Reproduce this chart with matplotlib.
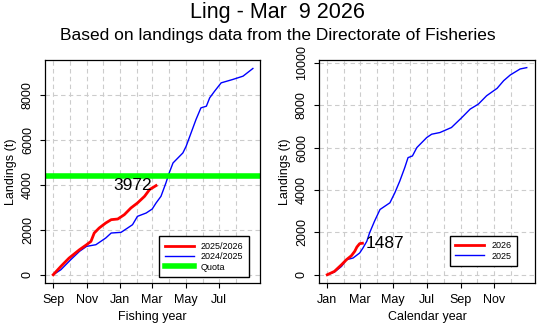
import matplotlib.pyplot as plt

plt.rcParams['font.family'] = ['Liberation Sans', 'DejaVu Sans']

# Fishing year (day from 1 Sep)
fy_months = [0, 30, 61, 91, 122, 153, 181, 212, 242, 273, 303, 334]
fy_labels = ['Sep', '', 'Nov', '', 'Jan', '', 'Mar', '', 'May', '', 'Jul', '']

fy_cur_day = [0, 14, 29, 48, 61, 69, 75, 84, 96, 106, 118, 130, 142, 154, 167, 176, 188]
fy_cur_val = [0, 372, 743, 1115, 1338, 1487, 1859, 2082, 2305, 2454, 2483, 2677, 2974,
              3197, 3495, 3792, 3972]

fy_prev_day = [0, 14, 32, 48, 61, 78, 96, 106, 124, 136, 145, 154, 170, 181, 188, 197, 206,
               212, 219, 228, 237, 243, 252, 261, 270, 280, 286, 295, 307, 328, 347, 365]
fy_prev_val = [0, 223, 669, 1041, 1264, 1338, 1636, 1859, 1889, 2082, 2230, 2602, 2751, 2929,
               3197, 3495, 4089, 4535, 4981, 5204, 5427, 5725, 6320, 6915, 7435, 7510, 7881,
               8178, 8550, 8699, 8848, 9190]
quota = 4420

# Calendar year (day from 1 Jan)
cy_months = [0, 31, 59, 90, 120, 151, 181, 212, 243, 273, 304, 334]
cy_labels = ['Jan', '', 'Mar', '', 'May', '', 'Jul', '', 'Sep', '', 'Nov', '']

cy_cur_day = [0, 13, 26, 35, 44, 50, 54, 59, 64]
cy_cur_val = [0, 158, 474, 711, 900, 1106, 1311, 1469, 1487]

cy_prev_day = [0, 13, 26, 35, 47, 59, 65, 72, 77, 86, 96, 105, 114, 123, 132, 141, 147, 155,
               163, 172, 181, 190, 205, 226, 245, 260, 275, 290, 309, 321, 333, 351, 363]
cy_prev_val = [0, 126, 395, 711, 790, 1027, 1264, 1580, 1975, 2528, 3081, 3239, 3397, 3871,
               4424, 5056, 5530, 5609, 6004, 6241, 6478, 6636, 6715, 6952, 7426, 7821, 8058,
               8453, 8801, 9164, 9433, 9717, 9780]

fig = plt.figure(figsize=(5.55, 3.33), dpi=100)
fig.text(0.5, 0.961, 'Ling - Mar  9 2026', ha='center', va='center', fontsize=15.5)
fig.text(0.5, 0.893, 'Based on landings data from the Directorate of Fisheries',
         ha='center', va='center', fontsize=12.5)

ax1 = fig.add_axes([45 / 555, 50 / 333, 215 / 555, 223 / 333])
ax2 = fig.add_axes([319 / 555, 50 / 333, 216 / 555, 223 / 333])


def style(ax, months, labels, yticks, ylim, xlabel):
    for m in months:
        ax.axvline(m, color='#cccccc', ls=(0, (4, 3)), lw=0.8, zorder=0)
    for y in yticks:
        ax.axhline(y, color='#cccccc', ls=(0, (4, 3)), lw=0.8, zorder=0)
    ax.set_xticks(months[::2])
    ax.set_xticklabels(labels[::2])
    ax.set_yticks(yticks)
    ax.set_yticklabels([str(y) for y in yticks], rotation=90, va='center')
    ax.set_xlim(-15, 378)
    ax.set_ylim(*ylim)
    ax.tick_params(labelsize=9, length=3.5, width=0.8, color='black', pad=4.5)
    ax.set_xlabel(xlabel, fontsize=9, labelpad=3.5)
    ax.set_ylabel('Landings (t)', fontsize=9, labelpad=3.5)
    for s in ax.spines.values():
        s.set_linewidth(0.9)


def add_legend(ax, order, anchor):
    h, l = ax.get_legend_handles_labels()
    ax.legend([h[i] for i in order], [l[i] for i in order], loc='lower right',
              bbox_to_anchor=anchor, borderaxespad=0, fontsize=6.5, fancybox=False,
              edgecolor='black', framealpha=1, handlelength=3.2, labelspacing=0.15,
              borderpad=0.6, handletextpad=0.8)


style(ax1, fy_months, fy_labels, [0, 2000, 4000, 6000, 8000], (-368, 9568), 'Fishing year')
ax1.plot(fy_prev_day, fy_prev_val, color='blue', lw=1.0, label='2024/2025')
ax1.plot(fy_cur_day, fy_cur_val, color='red', lw=2.0, label='2025/2026')
ax1.axhline(quota, color='#00ff00', lw=4, label='Quota')
ax1.text(fy_cur_day[-1] - 8, fy_cur_val[-1], str(fy_cur_val[-1]), ha='right', va='center',
         fontsize=12.5)
add_legend(ax1, [1, 0, 2], (0.949, 0.027))

style(ax2, cy_months, cy_labels, [0, 2000, 4000, 6000, 8000, 10000], (-390, 10140),
      'Calendar year')
ax2.plot(cy_prev_day, cy_prev_val, color='blue', lw=1.0, label='2025')
ax2.plot(cy_cur_day, cy_cur_val, color='red', lw=2.0, label='2026')
ax2.text(cy_cur_day[-1] + 6, cy_cur_val[-1], str(cy_cur_val[-1]), ha='left', va='center',
         fontsize=12.5)
add_legend(ax2, [1, 0], (0.915, 0.076))

fig.savefig('out.png', dpi=100)
